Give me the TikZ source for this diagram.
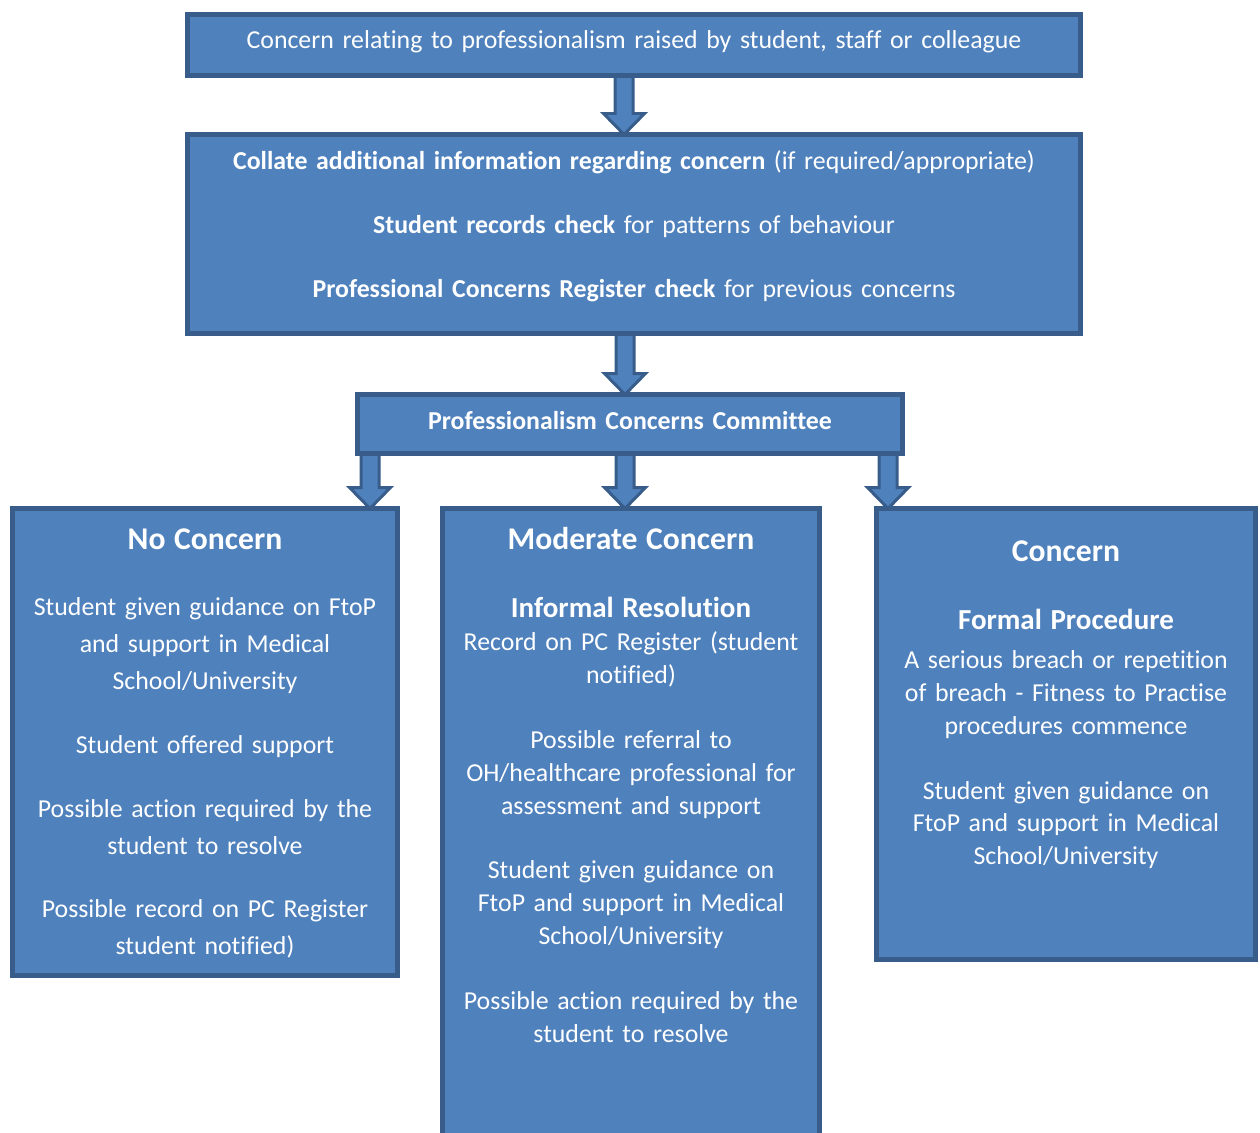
\documentclass[tikz,border=0pt]{standalone}
\usepackage{fontspec}
\setmainfont{Carlito}[Ligatures=NoCommon]
\usetikzlibrary{calc}
\usetikzlibrary{backgrounds}
\definecolor{boxfill}{HTML}{4F81BD}
\definecolor{boxline}{HTML}{385D8A}
\tikzstyle{stage}=[draw=boxline, fill=boxfill, line width=0.1cm, text=white, align=center, inner xsep=0pt, inner ysep=0pt, outer sep=0pt, anchor=north, font=\fontsize{14.7}{18.7}\selectfont]
\tikzstyle{wide stage}=[stage, font=\fontsize{14.7}{21}\selectfont]
\tikzstyle{flow arrow}=[draw=boxline, fill=boxfill, line width=0.06cm, line join=miter]
\newcommand{\stagehead}[1]{{\fontsize{18}{21}\selectfont\bfseries #1}}
\newcommand{\stagesub}[1]{{\fontsize{16.5}{20}\selectfont\bfseries #1}}
\newcommand{\flowarrow}[2]{%
  \draw[flow arrow] let \p1=(#1), \p2=(#2) in
    (\x1-0.18cm,\y1) -- (\x1-0.18cm,\y2+0.42cm) -- (\x1-0.41cm,\y2+0.42cm)
    -- (\x1,\y2) -- (\x1+0.41cm,\y2+0.42cm) -- (\x1+0.18cm,\y2+0.42cm)
    -- (\x1+0.18cm,\y1) -- cycle;}

\begin{document}
\begin{tikzpicture}
  \clip (0,0) rectangle (25.2,-22.66);
  \node[stage, text width=17.86cm, text height=0.69cm, text depth=0.53cm] (raised) at (12.68,-0.29)
    {Concern relating to professionalism raised by student, staff or colleague};
  \node[stage, text width=17.86cm, text height=0.69cm, text depth=3.29cm] (collate) at (12.68,-2.69)
    {\textbf{Collate additional information regarding concern} (if required/appropriate)\\[17.9pt]
     \textbf{Student records check} for patterns of behaviour\\[17.9pt]
     \textbf{Professional Concerns Register check} for previous concerns};
  \node[stage, text width=10.9cm, text height=0.69cm, text depth=0.49cm] (committee) at (12.6,-7.89)
    {\textbf{Professionalism Concerns Committee}};
  \node[wide stage, text width=7.7cm, text height=0.81cm, text depth=8.53cm] (none) at (4.1,-10.17)
    {\stagehead{No Concern}\\[17pt]
     Student given guidance on FtoP\\
     and support in Medical\\
     School/University\\[15.3pt]
     Student offered support\\[15.3pt]
     Possible action required by the\\
     student to resolve\\[15.3pt]
     Possible record on PC Register\\
     student notified)};
  \node[stage, text width=7.54cm, text height=0.81cm, text depth=11.92cm] (moderate) at (12.62,-10.17)
    {\stagehead{Moderate Concern}\\[20.4pt]
     \stagesub{Informal Resolution}\\
     Record on PC Register (student\\
     notified)\\[18.2pt]
     Possible referral to\\
     OH/healthcare professional for\\
     assessment and support\\[18.2pt]
     Student given guidance on\\
     FtoP and support in Medical\\
     School/University\\[18.2pt]
     Possible action required by the\\
     student to resolve};
  \node[stage, text width=7.58cm, text height=1.05cm, text depth=7.97cm] (formal) at (21.32,-10.17)
    {\stagehead{Concern}\\[20.4pt]
     \stagesub{Formal Procedure}\\[3.4pt]
     A serious breach or repetition\\
     of breach - Fitness to Practise\\
     procedures commence\\[18.2pt]
     Student given guidance on\\
     FtoP and support in Medical\\
     School/University};

  \coordinate (a1) at ([xshift=-0.2cm]raised.south);
  \coordinate (a2) at ([xshift=-0.18cm]collate.south);
  \coordinate (a3) at ([xshift=0.25cm]committee.south west);
  \coordinate (a4) at ([xshift=-0.1cm]committee.south);
  \coordinate (a5) at ([xshift=-0.29cm]committee.south east);
  \begin{pgfonlayer}{background}
    \flowarrow{a1}{a1 |- collate.north}
    \flowarrow{a2}{a2 |- committee.north}
    \flowarrow{a3}{a3 |- none.north}
    \flowarrow{a4}{a4 |- moderate.north}
    \flowarrow{a5}{a5 |- formal.north}
  \end{pgfonlayer}
\end{tikzpicture}
\end{document}
